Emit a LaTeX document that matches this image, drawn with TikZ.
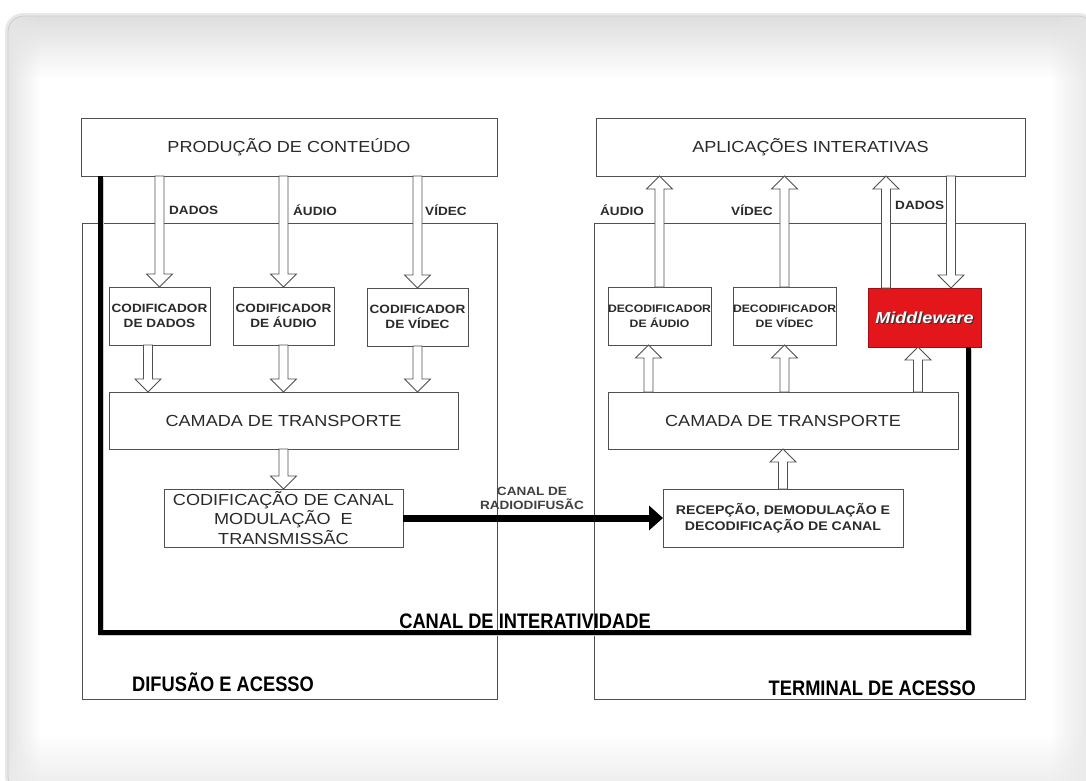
\documentclass[tikz,border=0pt]{standalone}
\usepackage{fontspec}
\setmainfont{Liberation Sans}[FakeStretch=1.13]
\newfontfamily\narrowfont{Liberation Sans}[FakeStretch=0.87]
\usetikzlibrary{calc,arrows.meta,fadings}

\definecolor{linegray}{HTML}{505050}
\definecolor{txtgray}{HTML}{2A2A2A}
\definecolor{mwred}{HTML}{E3161B}

\tikzfading[name=fadedown, top color=transparent!0, bottom color=transparent!100]
\tikzfading[name=fadeup, top color=transparent!100, bottom color=transparent!0]
\tikzfading[name=fadeleft, left color=transparent!0, right color=transparent!100]
\tikzfading[name=faderight, left color=transparent!100, right color=transparent!0]

\tikzset{
  box/.style={draw=linegray, line width=0.9pt, fill=white, inner sep=0pt,
              outer sep=0pt, anchor=north west, text=txtgray, align=center},
  bigtxt/.style={font=\fontsize{16}{19.5}\selectfont},
  smalltxt/.style={font=\bfseries\fontsize{12}{15}\selectfont},
  dectxt/.style={font=\bfseries\fontsize{10.8}{15}\selectfont},
  rectxt/.style={font=\bfseries\fontsize{12.5}{16}\selectfont},
  lbl/.style={inner sep=0pt, text=txtgray, font=\bfseries\fontsize{12}{14}\selectfont},
  narrowlbl/.style={inner sep=0pt, text=black, font=\narrowfont\bfseries\fontsize{21}{24}\selectfont},
  hollow/.style={draw=linegray, line width=0.8pt, fill=white, line join=miter},
  chanline/.style={draw=black, line width=5pt, line join=miter},
  radioarrow/.style={draw=black, line width=7pt, -{Triangle[length=14pt,width=24pt]}},
}

% hollow block arrow from #1 (tail) to #2 (tip)
\newcommand{\hollowarrow}[2]{%
  \coordinate (ha-t) at (#1);
  \coordinate (ha-p) at (#2);
  \coordinate (ha-b) at ($(ha-p)!13pt!(ha-t)$);
  \draw[hollow] ($(ha-t)!4.5pt!90:(ha-p)$) -- ($(ha-b)!4.5pt!90:(ha-p)$)
    -- ($(ha-b)!13pt!90:(ha-p)$) -- (ha-p) -- ($(ha-b)!13pt!-90:(ha-p)$)
    -- ($(ha-b)!4.5pt!-90:(ha-p)$) -- ($(ha-t)!4.5pt!-90:(ha-p)$) -- cycle;
}

\begin{document}
\begin{tikzpicture}[x=1pt,y=-1pt]
\useasboundingbox (0,0) rectangle (1086,780);

% page and card
\fill[white] (0,0) rectangle (1086,780);
\draw[gray!18, line width=4pt, rounded corners=16] (7,15) rectangle (1094,792);
\fill[white, rounded corners=16] (8,16) rectangle (1094,792);
\begin{scope}
  \clip[rounded corners=16] (8,16) rectangle (1094,792);
  \fill[black!13, path fading=fadedown] (8,16) rectangle (1094,78);
  \fill[black!10, path fading=fadeleft] (8,16) rectangle (40,792);
  \fill[black!10, path fading=faderight] (1050,16) rectangle (1094,792);
  \fill[black!8, path fading=fadeup] (8,735) rectangle (1094,792);
\end{scope}
\draw[gray!40, line width=0.8pt, rounded corners=16] (8,16) rectangle (1094,792);

% outer frames
\node[box, minimum width=415, minimum height=476] (difus) at (82,223) {};
\node[box, minimum width=431, minimum height=476] (term) at (594,223) {};

% top boxes
\node[box, bigtxt, minimum width=416, minimum height=58] (prod) at (81,118) {PRODUÇÃO DE CONTEÚDO};
\node[box, bigtxt, minimum width=429, minimum height=58] (aplic) at (596,118) {APLICAÇÕES INTERATIVAS};

% left side: encoders and transmission chain
\node[box, smalltxt, minimum width=101, minimum height=58] (encD) at (109,287) {CODIFICADOR\\DE DADOS};
\node[box, smalltxt, minimum width=101, minimum height=58] (encA) at (233,287) {CODIFICADOR\\DE ÁUDIO};
\node[box, smalltxt, minimum width=101, minimum height=58] (encV) at (367,288) {CODIFICADOR\\DE VÍDEC};
\node[box, bigtxt, minimum width=349, minimum height=57] (trL) at (109,392) {CAMADA DE TRANSPORTE};
\node[box, bigtxt, minimum width=239, minimum height=58] (codC) at (164,489) {CODIFICAÇÃO DE CANAL\\MODULAÇÃO\ \ E\\TRANSMISSÃC};

% right side: reception chain and decoders
\node[box, rectxt, minimum width=240, minimum height=58] (rec) at (663,489) {RECEPÇÃO, DEMODULAÇÃO E\\DECODIFICAÇÃO DE CANAL};
\node[box, bigtxt, minimum width=350, minimum height=57] (trR) at (608,392) {CAMADA DE TRANSPORTE};
\node[box, dectxt, minimum width=102, minimum height=58] (decA) at (608,287) {DECODIFICADOR\\DE ÁUDIO};
\node[box, dectxt, minimum width=101, minimum height=58] (decV) at (733,287) {DECODIFICADOR\\DE VÍDEC};
\node[box, draw=mwred!70!black, fill=mwred, minimum width=113, minimum height=59] (mw) at (868,288) {};
\node[text=black!80, font=\bfseries\itshape\fontsize{16}{18}\selectfont] (mwshadow) at ([shift={(1.2,1.2)}]mw.center) {Middleware};
\node[text=white, font=\bfseries\itshape\fontsize{16}{18}\selectfont] (mwtext) at (mw.center) {Middleware};

% hollow arrows, left side
\hollowarrow{encD.north |- prod.south}{encD.north}
\hollowarrow{encA.north |- prod.south}{encA.north}
\hollowarrow{encV.north |- prod.south}{encV.north}
\hollowarrow{[xshift=-11.5pt]encD.south}{[xshift=-11.5pt]encD.south |- trL.north}
\hollowarrow{encA.south}{encA.south |- trL.north}
\hollowarrow{encV.south}{encV.south |- trL.north}
\hollowarrow{codC.north |- trL.south}{codC.north}

% hollow arrows, right side
\hollowarrow{[xshift=-11pt]decA.south |- trR.north}{[xshift=-11pt]decA.south}
\hollowarrow{decV.south |- trR.north}{decV.south}
\hollowarrow{[xshift=-6.5pt]mw.south |- trR.north}{[xshift=-6.5pt]mw.south}
\hollowarrow{rec.north}{rec.north |- trR.south}
\hollowarrow{decA.north}{decA.north |- aplic.south}
\hollowarrow{decV.north}{decV.north |- aplic.south}
\hollowarrow{[xshift=-38.5pt]mw.north}{[xshift=-38.5pt]mw.north |- aplic.south}
\hollowarrow{[xshift=26.5pt]mw.north |- aplic.south}{[xshift=26.5pt]mw.north}

% flow labels
\node[lbl, anchor=west] (lDadosL) at (169,210) {DADOS};
\node[lbl, anchor=west] (lAudioL) at (293,210) {ÁUDIO};
\node[lbl, anchor=west] (lVideoL) at (425,210) {VÍDEC};
\node[lbl, anchor=west] (lAudioR) at (600,210) {ÁUDIO};
\node[lbl, anchor=west] (lVideoR) at (731,210) {VÍDEC};
\node[lbl, anchor=west] (lDadosR) at (895,205) {DADOS};

% broadcast channel
\draw[radioarrow] (codC.east) -- (rec.west);
\node[lbl, text=black!75, align=center] (radioLbl) at (532,498) {CANAL DE\\RADIODIFUSÃC};

% interactivity channel
\draw[chanline, draw=gray!40, transform canvas={shift={(1.2pt,-1.5pt)}}]
  ([xshift=19pt]prod.south west) -- ++(0,456) -| ([xshift=-13pt]mw.south east);
\draw[chanline] ([xshift=19pt]prod.south west) -- ++(0,456) -| ([xshift=-13pt]mw.south east);
\node[narrowlbl] (chanLbl) at (525,621) {CANAL DE INTERATIVIDADE};

% frame captions
\node[narrowlbl, anchor=west] (difusLbl) at (132,682) {DIFUSÃO E ACESSO};
\node[narrowlbl, anchor=east] (termLbl) at (976,688) {TERMINAL DE ACESSO};
\end{tikzpicture}
\end{document}
